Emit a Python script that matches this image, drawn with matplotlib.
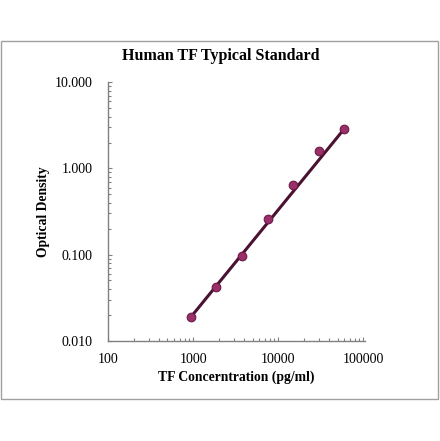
import numpy as np
import matplotlib
matplotlib.use('Agg')
import matplotlib.pyplot as plt
from matplotlib.patches import Rectangle
from matplotlib.ticker import FixedLocator, LogLocator, NullFormatter

# standard curve data
conc = [937.5, 1875, 3750, 7500, 15000, 30000, 60000]
od = [0.0187, 0.0425, 0.0966, 0.258, 0.634, 1.58, 2.89]
x_ticks = [100, 1000, 10000, 100000]
x_labels = ['100', '1000', '10000', '100000']
y_ticks = [0.01, 0.1, 1, 10]
y_labels = ['0.010', '0.100', '1.000', '10.000']

plt.rcParams['font.family'] = ['Liberation Serif', 'DejaVu Serif']

fig = plt.figure(figsize=(4.4, 4.41), dpi=100)
fig.patches.append(Rectangle((1 / 440, 1 - 399 / 441), 437 / 440, 358 / 441,
                             transform=fig.transFigure, fill=False,
                             edgecolor='#a0a0a0', linewidth=1.0))

ax = fig.add_axes([108 / 440, 1 - 340.7 / 441, 257 / 440, 258.4 / 441])
ax.set_xscale('log')
ax.set_yscale('log')
ax.set_xlim(100, 105000)
ax.set_ylim(0.01, 10)

# curve drawn through the lowest and highest standards
ax.plot([conc[0], conc[-1]], [od[0], od[-1]], color='#4a1230', linewidth=2.2, zorder=2)
ax.plot(conc, od, 'o', markersize=6.2, color='#9a2f6a',
        markeredgecolor='#6a1a45', markeredgewidth=0.8, zorder=3)

for side in ['top', 'right']:
    ax.spines[side].set_visible(False)
for side in ['left', 'bottom']:
    ax.spines[side].set_color('#808080')
    ax.spines[side].set_linewidth(1.0)

ax.xaxis.set_major_locator(FixedLocator(x_ticks))
ax.set_xticklabels(x_labels)
ax.yaxis.set_major_locator(FixedLocator(y_ticks))
ax.set_yticklabels(y_labels)
ax.xaxis.set_minor_locator(LogLocator(base=10, subs=range(2, 10)))
ax.yaxis.set_minor_locator(LogLocator(base=10, subs=range(2, 10)))
ax.xaxis.set_minor_formatter(NullFormatter())
ax.yaxis.set_minor_formatter(NullFormatter())
ax.tick_params(which='both', direction='in', color='#808080', width=0.8)
ax.tick_params(which='major', length=3, labelsize=10)
ax.tick_params(axis='x', which='major', pad=9)
ax.tick_params(axis='y', which='major', pad=11)
ax.tick_params(which='minor', length=2.5)

ax.set_xlabel('TF Concerntration (pg/ml)', fontsize=9.8, fontweight='bold', va='center')
ax.set_ylabel('Optical Density', fontsize=9.8, fontweight='bold', va='center')
ax.xaxis.set_label_coords((236 - 108) / 257, -(377 - 340.7) / 258.4)
ax.yaxis.set_label_coords(-(108 - 44) / 257, (340.7 - 212) / 258.4)
fig.text(221 / 440, 1 - 56 / 441, 'Human TF Typical Standard', ha='center', va='center',
         fontsize=11.5, fontweight='bold')

fig.savefig('out.png', dpi=100)
